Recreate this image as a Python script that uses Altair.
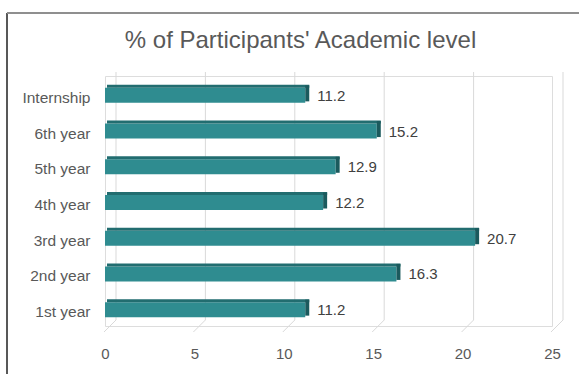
import altair as alt
import pandas as pd

categories = ["Internship", "6th year", "5th year", "4th year", "3rd year", "2nd year", "1st year"]
values = [11.2, 15.2, 12.9, 12.2, 20.7, 16.3, 11.2]
ticks = [0, 5, 10, 15, 20, 25]
title_text = "% of Participants' Academic level"

df = pd.DataFrame({"cat": categories, "val": values, "zero": [0] * len(values)})
df["label"] = [f"{v:.1f}" for v in values]
tdf = pd.DataFrame({"t": ticks})

FONT = "Liberation Sans"
FRONT = "#2f8c90"
TOP = "#226d70"
CAP = "#1b5a5d"

xs = alt.Scale(domain=[0, 25], nice=False, zero=True)
ys = alt.Scale(paddingInner=0.5, paddingOuter=0.25)

yenc = alt.Y("cat:N", sort=categories, scale=ys,
             axis=alt.Axis(title=None, domain=False, ticks=False, labelPadding=15,
                           labelOffset=4, labelFont=FONT, labelFontSize=15.5,
                           labelColor="#595959"))

# back grid lines (3D look)
grid = alt.Chart(tdf).mark_rule(color="#d9d9d9", strokeWidth=1, xOffset=11, x2Offset=11).encode(
    x=alt.X("t:Q", scale=xs, axis=alt.Axis(title=None, values=ticks, domain=False, ticks=False,
                                            grid=False, labelPadding=20, labelFont=FONT,
                                            labelFontSize=15, labelColor="#595959",
                                            labelFlush=False, labelOverlap=False)),
    y=alt.value(-4), y2=alt.value(244)
)
slant = alt.Chart(tdf).mark_rule(color="#d9d9d9", strokeWidth=1, xOffset=11, x2Offset=-1).encode(
    x=alt.X("t:Q", scale=xs), x2="t:Q",
    y=alt.value(244), y2=alt.value(256)
)

base = alt.Chart(df)
front = base.mark_bar(height=15, yOffset=1.5, color=FRONT, cornerRadius=0).encode(
    x=alt.X("zero:Q", scale=xs), x2="val:Q", y=yenc
)
topface = base.mark_bar(height=3, yOffset=-7.5, color=TOP, xOffset=2, x2Offset=4).encode(
    x=alt.X("zero:Q", scale=xs), x2="val:Q", y=yenc
)
cap = base.mark_bar(height=16, yOffset=-0.5, color=CAP, x2Offset=4).encode(
    x=alt.X("val:Q", scale=xs), x2="val:Q", y=yenc
)
labels = base.mark_text(align="left", baseline="middle", dx=12, dy=2, font=FONT,
                        fontSize=15, color="#404040").encode(
    x=alt.X("val:Q", scale=xs), y=yenc, text="label:N"
)

frame_left = alt.Chart(tdf).mark_rule(color="#595959", strokeWidth=1.5).encode(
    x=alt.value(-98), x2=alt.value(-98), y=alt.value(-63), y2=alt.value(298)
)
frame_top = alt.Chart(tdf).mark_rule(color="#8f8f8f", strokeWidth=2).encode(
    x=alt.value(-98), x2=alt.value(474), y=alt.value(-63), y2=alt.value(-63)
)

chart = alt.layer(grid, slant, front, topface, cap, labels, frame_left, frame_top).properties(
    width=447, height=250,
    title=alt.TitleParams(title_text, font=FONT, fontSize=24, fontWeight="normal",
                          color="#595959", anchor="middle", dx=-28, offset=-65,
                          baseline="bottom"),
    autosize=alt.AutoSizeParams(type="none"),
    padding={"left": 105, "top": 76, "right": 27, "bottom": 49},
).configure_view(stroke=None).configure(background="white")

chart.save("out.html", embed_options={"renderer": "svg", "actions": False})
